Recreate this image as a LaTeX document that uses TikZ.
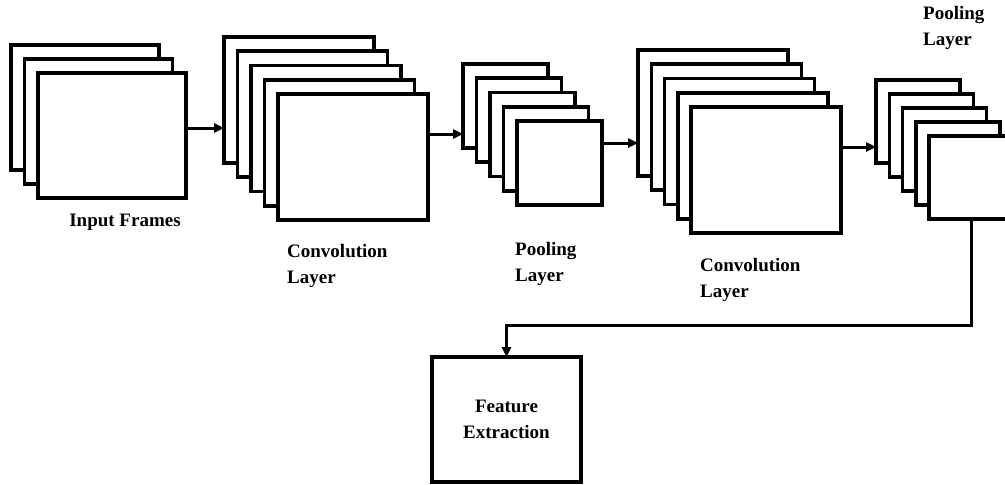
\documentclass[tikz,border=0pt]{standalone}
\usepackage{fontspec}
\setmainfont{Liberation Serif}
\usetikzlibrary{arrows.meta,positioning}

\tikzset{
    frame/.style={draw, fill=white, line width=3.6pt, inner sep=0pt, outer sep=0pt, anchor=north west},
    arr/.style={line width=3pt, -{Triangle[length=10pt,width=9pt]}},
    lbl/.style={font=\bfseries\fontsize{19}{26}\selectfont, align=left, inner sep=0pt}
}

\begin{document}
\begin{tikzpicture}[x=1pt, y=-1pt]
    \useasboundingbox (0,0) rectangle (1005,485);

    % input frames
    \foreach \i in {1,...,3} {
        \node[frame, minimum width=148, minimum height=125] (in\i) at ({11+13.5*(\i-1)},{45+14*(\i-1)}) {};
    }
    % first convolution layer
    \foreach \i in {1,...,5} {
        \node[frame, minimum width=150, minimum height=126] (cv\i) at ({224+13.5*(\i-1)},{37+14.25*(\i-1)}) {};
    }
    % first pooling layer
    \foreach \i in {1,...,5} {
        \node[frame, minimum width=85, minimum height=84] (pl\i) at ({463+13.5*(\i-1)},{64+14.25*(\i-1)}) {};
    }
    % second convolution layer
    \foreach \i in {1,...,5} {
        \node[frame, minimum width=150, minimum height=126] (cw\i) at ({638+13.3*(\i-1)},{50+14.25*(\i-1)}) {};
    }
    % second pooling layer
    \foreach \i in {1,...,5} {
        \node[frame, minimum width=84, minimum height=83] (pm\i) at ({876+13.3*(\i-1)},{80+14*(\i-1)}) {};
    }
    \node[frame, minimum width=149, minimum height=125, lbl, align=center] (feat) at (432,357) {Feature\\Extraction};

    % labels
    \node[lbl] (inlbl) at (125,222) {Input Frames};
    \node[lbl, anchor=west] (cvlbl) at (287,266) {Convolution\\Layer};
    \node[lbl, anchor=west] (pllbl) at (515,264) {Pooling\\Layer};
    \node[lbl, anchor=west] (cwlbl) at (700,280) {Convolution\\Layer};
    \node[lbl, anchor=west] (pmlbl) at (923,28) {Pooling\\Layer};

    % connectors
    \draw[arr] ([yshift=7.5pt]in3.east) coordinate (a1) -- (a1 -| cv1.west);
    \draw[arr] ([yshift=23pt]cv5.east) coordinate (a2) -- (a2 -| pl1.west);
    \draw[arr] ([yshift=20pt]pl5.east) coordinate (a3) -- (a3 -| cw1.west);
    \draw[arr] ([yshift=23pt]cw5.east) coordinate (a4) -- (a4 -| pm1.west);
    \coordinate (turn) at (971,325);
    \draw[arr] (pm5.south) -- (pm5.south |- turn) -| (feat.north);
\end{tikzpicture}
\end{document}
